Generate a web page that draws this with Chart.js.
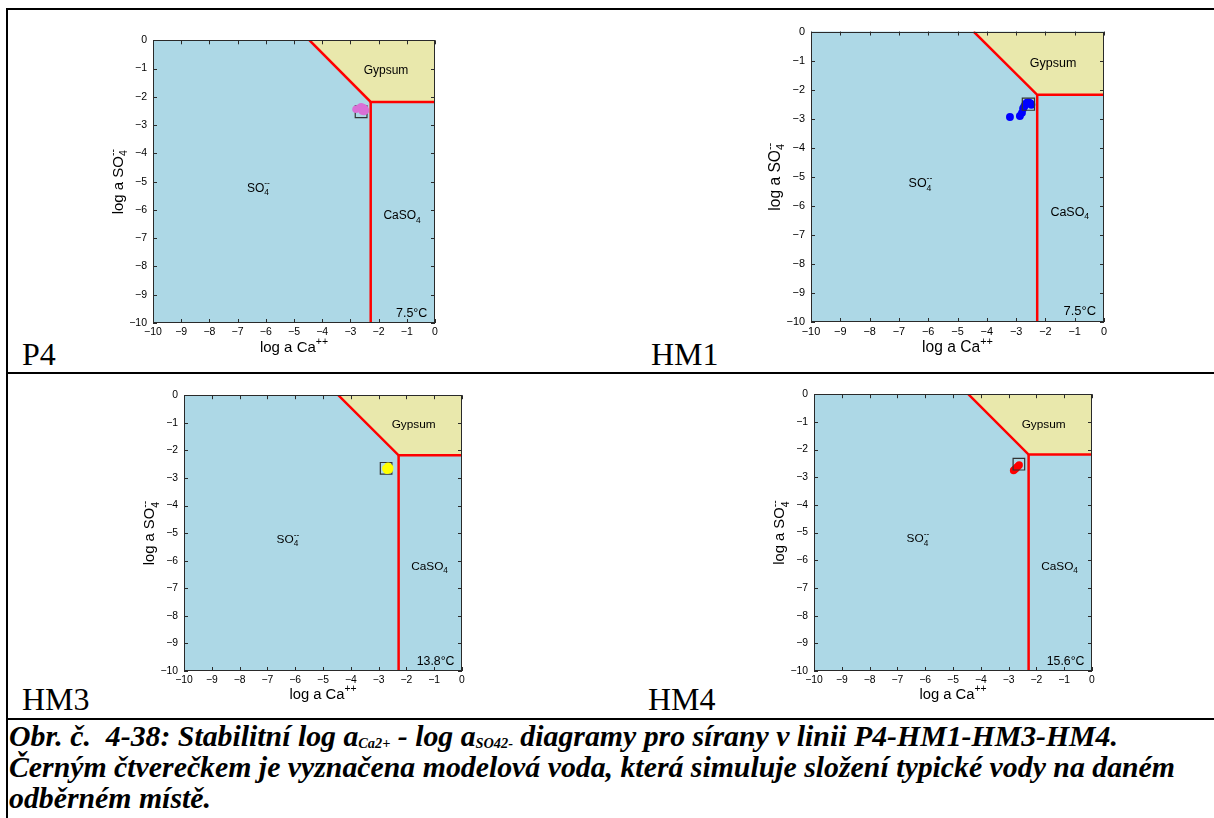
<!DOCTYPE html>
<html><head><meta charset="utf-8">
<script src="https://cdn.jsdelivr.net/npm/chart.js@4/dist/chart.umd.min.js"></script>
<style>
html,body{margin:0;padding:0;background:#fff}
body{width:1214px;height:818px;position:relative;overflow:hidden;font-family:"Liberation Serif","Times New Roman",serif;color:#000}
.ln{position:absolute;background:#000}
.lab{position:absolute;font-size:32px;line-height:32px;white-space:nowrap}
canvas{position:absolute}
#cap{position:absolute;left:9px;top:720px;font-weight:bold;font-style:italic;font-size:29.8px;line-height:31px;white-space:nowrap}
#cap sub{font-size:0.48em;vertical-align:-0.15em;line-height:0}
</style></head><body>
<div class="ln" style="left:6px;top:8px;width:1208px;height:2px"></div>
<div class="ln" style="left:6px;top:8px;width:2px;height:810px"></div>
<div class="ln" style="left:6px;top:372px;width:1208px;height:2px"></div>
<div class="ln" style="left:6px;top:718px;width:1208px;height:2px"></div>
<div class="lab" style="left:22px;top:338px">P4</div>
<div class="lab" style="left:651px;top:338px">HM1</div>
<div class="lab" style="left:22px;top:683px">HM3</div>
<div class="lab" style="left:648px;top:683px">HM4</div>
<div id="cap">Obr. č.&nbsp; 4-38: Stabilitní log a<sub>Ca2+</sub> - log a<sub>SO42-</sub> diagramy pro sírany v linii P4-HM1-HM3-HM4.<br>Černým čtverečkem je vyznačena modelová voda, která simuluje složení typické vody na daném<br>odběrném místě.</div>
<canvas id="c0"></canvas><canvas id="c1"></canvas><canvas id="c2"></canvas><canvas id="c3"></canvas>
<script>
// ---- data ----
const tickValues = [-10,-9,-8,-7,-6,-5,-4,-3,-2,-1,0];
const tickLabels = ['\u221210','\u22129','\u22128','\u22127','\u22126','\u22125','\u22124','\u22123','\u22122','\u22121','0'];
const gypsumBoundaryX = [-4.45, -2.28, 0];
const gypsumBoundaryY = [0, -2.18, -2.18];
const caso4BoundaryX = [-2.28, -2.28];
const caso4BoundaryY = [-2.18, -10];
const p4X  = [-2.80, -2.68, -2.62, -2.55, -2.50, -2.47, -2.58, -2.52];
const p4Y  = [-2.44, -2.40, -2.35, -2.38, -2.42, -2.48, -2.50, -2.52];
const hm1X = [-3.21, -2.87, -2.80, -2.76, -2.72, -2.68, -2.63, -2.57, -2.52, -2.48];
const hm1Y = [-2.94, -2.91, -2.80, -2.65, -2.58, -2.50, -2.45, -2.44, -2.47, -2.52];
const hm3X = [-2.74, -2.66, -2.60, -2.70, -2.62];
const hm3Y = [-2.66, -2.58, -2.64, -2.72, -2.70];
const hm4X = [-2.82, -2.78, -2.74, -2.70, -2.66, -2.62];
const hm4Y = [-2.76, -2.72, -2.68, -2.64, -2.60, -2.56];
const modelWaterX = [-2.62, -2.58, -2.73, -2.63];
const modelWaterY = [-2.53, -2.50, -2.65, -2.53];
const siteNames = ['P4', 'HM1', 'HM3', 'HM4'];
const temperatures = ['7.5\u00B0C', '7.5\u00B0C', '13.8\u00B0C', '15.6\u00B0C'];

// ---- layout / style ----
const plots = [
  {L:153, T:40,  W:282, H:283, color:'#DA70D6', sqTop:false},
  {L:811, T:31,  W:293, H:291, color:'#0000FF', sqTop:true},
  {L:184, T:395, W:278, H:276, color:'#FFFF00', sqTop:false},
  {L:814, T:394, W:278, H:277, color:'#FF0000', sqTop:true}
];
const seriesX = [p4X, hm1X, hm3X, hm4X];
const seriesY = [p4Y, hm1Y, hm3Y, hm4Y];
const COL = {bg:'#ADD8E6', gyp:'#E9E8AC', red:'#FF0000', frame:'#2a2a2a', text:'#000'};
const SANS = '"Liberation Sans", Arial, Helvetica, sans-serif';
const labelPos = {gypsum:[-2.53,-1.05], so4:[-6.67,-5.2], caso4:[-1.83,-6.18], temp:[-0.27,-9.62]};

const toPts = (xs, ys) => xs.map((x,i)=>({x, y: ys[i]}));
const fnt = s => s.toFixed(2)+'px '+SANS;

function segW(ctx, s, fs){
  if (s.t){ ctx.font = fnt(fs); return ctx.measureText(s.t).width; }
  ctx.font = fnt(fs*0.7);
  return Math.max(s.sub?ctx.measureText(s.sub).width:0, s.sup?ctx.measureText(s.sup).width:0);
}
function drawRich(ctx, segs, x, y, fs, align){
  const tot = segs.reduce((a,s)=>a+segW(ctx,s,fs),0);
  let cx = align==='center' ? x-tot/2 : align==='right' ? x-tot : x;
  ctx.textAlign='left'; ctx.textBaseline='alphabetic'; ctx.fillStyle=COL.text;
  for (const s of segs){
    const w = segW(ctx,s,fs);
    if (s.t){ ctx.font=fnt(fs); ctx.fillText(s.t,cx,y); }
    else {
      ctx.font=fnt(fs*0.7);
      if (s.sub) ctx.fillText(s.sub,cx,y+fs*0.28);
      if (s.sup) ctx.fillText(s.sup,cx,y-fs*0.45);
    }
    cx += w;
  }
}

const diagramPlugin = {
  id:'diagram',
  beforeDatasetsDraw(chart){
    const {ctx, chartArea:a} = chart;
    ctx.save(); ctx.fillStyle = COL.bg; ctx.fillRect(a.left,a.top,a.width,a.height); ctx.restore();
  },
  afterDatasetsDraw(chart, args, o){
    const {ctx, chartArea:a, scales:{x, y}} = chart;
    const k = o.k;
    ctx.save();
    ctx.strokeStyle = COL.frame; ctx.lineWidth = 1;
    ctx.strokeRect(Math.round(a.left)+0.5, Math.round(a.top)+0.5, Math.round(a.width)-1, Math.round(a.height)-1);
    const tl = 4;
    ctx.beginPath();
    for (const v of tickValues){
      const px = Math.round(x.getPixelForValue(v))+0.5;
      ctx.moveTo(px, a.bottom); ctx.lineTo(px, a.bottom-tl);
      ctx.moveTo(px, a.top); ctx.lineTo(px, a.top+tl);
      const py = Math.round(y.getPixelForValue(v))+0.5;
      ctx.moveTo(a.left, py); ctx.lineTo(a.left+tl, py);
      ctx.moveTo(a.right, py); ctx.lineTo(a.right-tl, py);
    }
    ctx.stroke();
    const fs = 12*k;
    const P = p => [x.getPixelForValue(p[0]), y.getPixelForValue(p[1]) + fs*0.36];
    let q = P(labelPos.gypsum); drawRich(ctx,[{t:'Gypsum'}],q[0],q[1],fs,'left');
    q = P(labelPos.so4); drawRich(ctx,[{t:'SO'},{sub:'4',sup:'--'}],q[0],q[1],fs,'left');
    q = P(labelPos.caso4); drawRich(ctx,[{t:'CaSO'},{sub:'4'}],q[0],q[1],fs,'left');
    q = P(labelPos.temp); drawRich(ctx,[{t:o.temp}],q[0],q[1],12.5*k,'right');
    const tfs = 15*k;
    drawRich(ctx,[{t:'log a Ca'},{sup:'++'}],(a.left+a.right)/2, a.bottom+28.5*k, tfs,'center');
    ctx.translate(a.left-30*k, (a.top+a.bottom)/2);
    ctx.rotate(-Math.PI/2);
    drawRich(ctx,[{t:'log a SO'},{sub:'4',sup:'--'}],0,0,tfs,'center');
    ctx.restore();
  }
};

plots.forEach((p, i) => {
  const cv = document.getElementById('c'+i);
  cv.width = p.W + 75; cv.height = p.H + 57;
  cv.style.left = (p.L - 60)+'px'; cv.style.top = (p.T - 12)+'px';
  const k = p.W/282;
  const square = {
    type:'scatter', label:'model', data: toPts([modelWaterX[i]],[modelWaterY[i]]),
    pointStyle:'rect', pointRadius:8.3*k, pointBackgroundColor:'rgba(0,0,0,0)',
    pointBorderColor:'#333', pointBorderWidth:1.2
  };
  const pts = {
    type:'scatter', label:siteNames[i], data: toPts(seriesX[i], seriesY[i]),
    pointRadius:3.8*k, pointBackgroundColor:p.color, pointBorderColor:p.color, pointBorderWidth:0
  };
  const gyp = {
    type:'line', label:'Gypsum', data: toPts(gypsumBoundaryX, gypsumBoundaryY),
    borderColor:COL.red, borderWidth:2.5, pointRadius:0, fill:'end', backgroundColor:COL.gyp, tension:0
  };
  const cas = {
    type:'line', label:'CaSO4', data: toPts(caso4BoundaryX, caso4BoundaryY),
    borderColor:COL.red, borderWidth:2.5, pointRadius:0, fill:false, tension:0
  };
  const datasets = p.sqTop ? [square, pts, gyp, cas] : [pts, square, gyp, cas];
  const tickFont = {family:SANS, size:10.5*k};
  new Chart(cv, {
    type:'scatter',
    data:{datasets},
    options:{
      responsive:false, animation:false, devicePixelRatio:1,
      layout:{padding:{left:15, top:12, right:15, bottom:5}},
      plugins:{legend:{display:false}, tooltip:{enabled:false}, diagram:{k, temp:temperatures[i]}},
      scales:{
        x:{type:'linear', position:'bottom', min:-10, max:0,
           afterBuildTicks: s => { s.ticks = tickValues.map(v=>({value:v})); },
           afterFit: s => { s.height = 40; },
           ticks:{callback:(v,idx)=>tickLabels[idx], font:tickFont, color:'#000', padding:3, maxRotation:0, autoSkip:false},
           grid:{display:false, drawTicks:false}, border:{display:false}},
        y:{type:'linear', position:'left', min:-10, max:0,
           afterBuildTicks: s => { s.ticks = tickValues.map(v=>({value:v})); },
           afterFit: s => { s.width = 45; },
           ticks:{callback:(v,idx)=>tickLabels[idx], font:tickFont, color:'#000', padding:6, autoSkip:false},
           grid:{display:false, drawTicks:false}, border:{display:false}}
      }
    },
    plugins:[diagramPlugin]
  });
});
</script>
</body></html>
